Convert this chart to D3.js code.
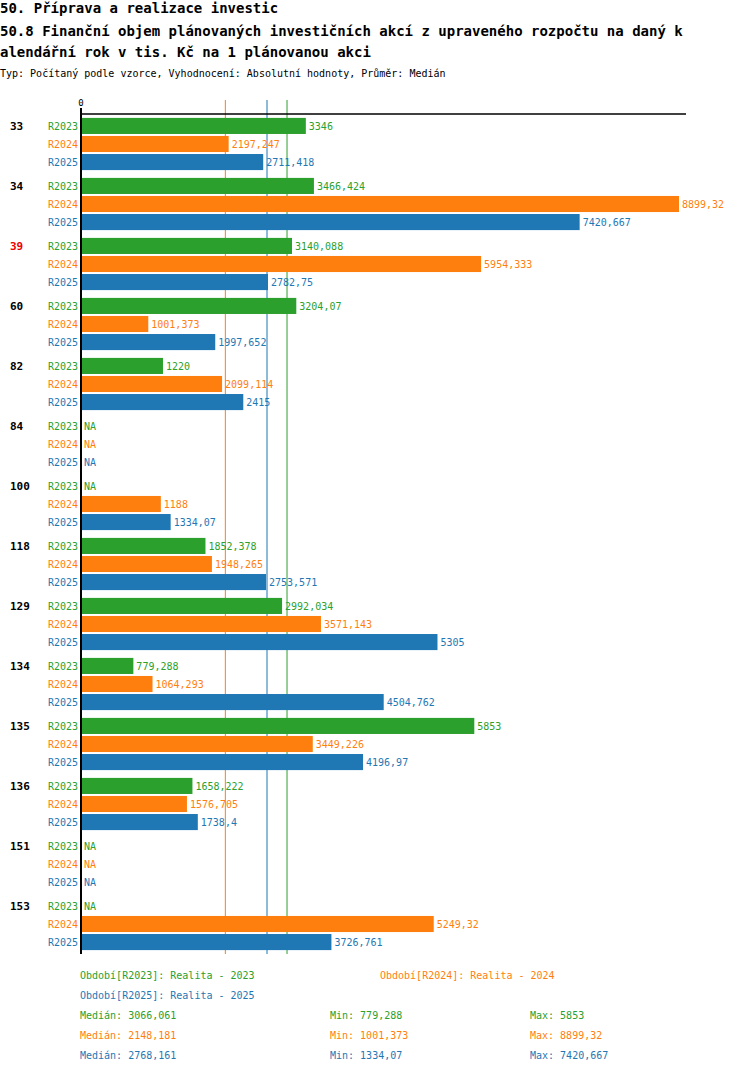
<!DOCTYPE html>
<html><head><meta charset="utf-8">
<script src="https://cdn.jsdelivr.net/npm/d3@7"></script>
<style>
body{margin:0;background:#fff;}
text{font-family:"DejaVu Sans Mono",monospace;}
</style></head>
<body><div id="chart"></div>
<script>
const categories = ["33","34","39","60","82","84","100","118","129","134","135","136","151","153"];
const highlighted = ["39"];
const series = ["R2023","R2024","R2025"];
const seriesNames = ["Realita - 2023","Realita - 2024","Realita - 2025"];
const colors = ["#2ca02c","#ff7f0e","#1f77b4"];
const r2023 = [3346,3466.424,3140.088,3204.07,1220,null,null,1852.378,2992.034,779.288,5853,1658.222,null,null];
const r2024 = [2197.247,8899.32,5954.333,1001.373,2099.114,null,1188,1948.265,3571.143,1064.293,3449.226,1576.705,null,5249.32];
const r2025 = [2711.418,7420.667,2782.75,1997.652,2415,null,1334.07,2753.571,5305,4504.762,4196.97,1738.4,null,3726.761];
const medians = [3066.061,2148.181,2768.161];
const mins = [779.288,1001.373,1334.07];
const maxs = [5853,8899.32,7420.667];
const values = [r2023,r2024,r2025];

const fmt = v => String(+v.toFixed(3)).replace(".", ",");
const W = 750, H = 1074;
const svg = d3.select("#chart").append("svg").attr("width", W).attr("height", H);

svg.append("text").attr("x",0).attr("y",13).attr("font-size",14).attr("font-weight","bold").text("50. Příprava a realizace investic");
svg.append("text").attr("x",0).attr("y",36).attr("font-size",14).attr("font-weight","bold").text("50.8 Finanční objem plánovaných investičních akcí z upraveného rozpočtu na daný k");
svg.append("text").attr("x",0).attr("y",57).attr("font-size",14).attr("font-weight","bold").text("alendářní rok v tis. Kč na 1 plánovanou akci");
svg.append("text").attr("x",0).attr("y",77).attr("font-size",10).text("Typ: Počítaný podle vzorce, Vyhodnocení: Absolutní hodnoty, Průměr: Medián");

const x = d3.scaleLinear().domain([0, 8899.32]).range([81, 679]);
const yG = d3.scaleBand().domain(categories).range([114, 954]);
const yS = d3.scaleBand().domain(series).range([0, 54]).paddingInner(0.11).paddingOuter(0.05);

// median lines
medians.forEach((m, i) => {
  svg.append("line").attr("x1", x(m)).attr("x2", x(m)).attr("y1", 100).attr("y2", 954)
    .attr("stroke", colors[i]).attr("stroke-width", 1);
});

const g = svg.selectAll(".grp").data(categories).enter().append("g")
  .attr("transform", d => `translate(0,${yG(d) + 3})`);

g.append("text").attr("x", 10).attr("y", yS("R2023") + yS.bandwidth()/2 + 4)
  .attr("font-size", 11).attr("font-weight", "bold")
  .attr("fill", d => highlighted.includes(d) ? "#e00" : "#000").text(d => d);

series.forEach((s, si) => {
  const yy = yS(s);
  g.append("text").attr("x", 78).attr("y", yy + yS.bandwidth()/2 + 4).attr("text-anchor","end")
    .attr("font-size", 10).attr("fill", colors[si]).text(s);
  g.filter((d, i) => values[si][i] != null).append("rect")
    .attr("x", x(0)).attr("y", yy)
    .attr("width", (d) => x(values[si][categories.indexOf(d)]) - x(0))
    .attr("height", yS.bandwidth()).attr("fill", colors[si]);
  g.append("text")
    .attr("x", d => { const v = values[si][categories.indexOf(d)]; return (v == null ? x(0) : x(v)) + 3; })
    .attr("y", yy + yS.bandwidth()/2 + 4).attr("font-size", 10).attr("fill", colors[si])
    .text(d => { const v = values[si][categories.indexOf(d)]; return v == null ? "NA" : fmt(v); });
});

// axes
svg.append("line").attr("x1", 81).attr("x2", 686).attr("y1", 114).attr("y2", 114).attr("stroke", "#000").attr("stroke-width", 1.5);
svg.append("line").attr("x1", 81).attr("x2", 81).attr("y1", 108).attr("y2", 954).attr("stroke", "#000").attr("stroke-width", 2);
svg.append("text").attr("x", 81).attr("y", 106).attr("text-anchor","middle").attr("font-size", 9).text("0");

// legend
const leg = [[80,979],[380,979],[80,999]];
series.forEach((s, i) => {
  svg.append("text").attr("x", leg[i][0]).attr("y", leg[i][1]).attr("font-size", 10).attr("fill", colors[i])
    .text(`Období[${s}]: ${seriesNames[i]}`);
  const yy = 1019 + i * 20;
  svg.append("text").attr("x", 80).attr("y", yy).attr("font-size", 10).attr("fill", colors[i]).text(`Medián: ${fmt(medians[i])}`);
  svg.append("text").attr("x", 330).attr("y", yy).attr("font-size", 10).attr("fill", colors[i]).text(`Min: ${fmt(mins[i])}`);
  svg.append("text").attr("x", 530).attr("y", yy).attr("font-size", 10).attr("fill", colors[i]).text(`Max: ${fmt(maxs[i])}`);
});
</script></body></html>
